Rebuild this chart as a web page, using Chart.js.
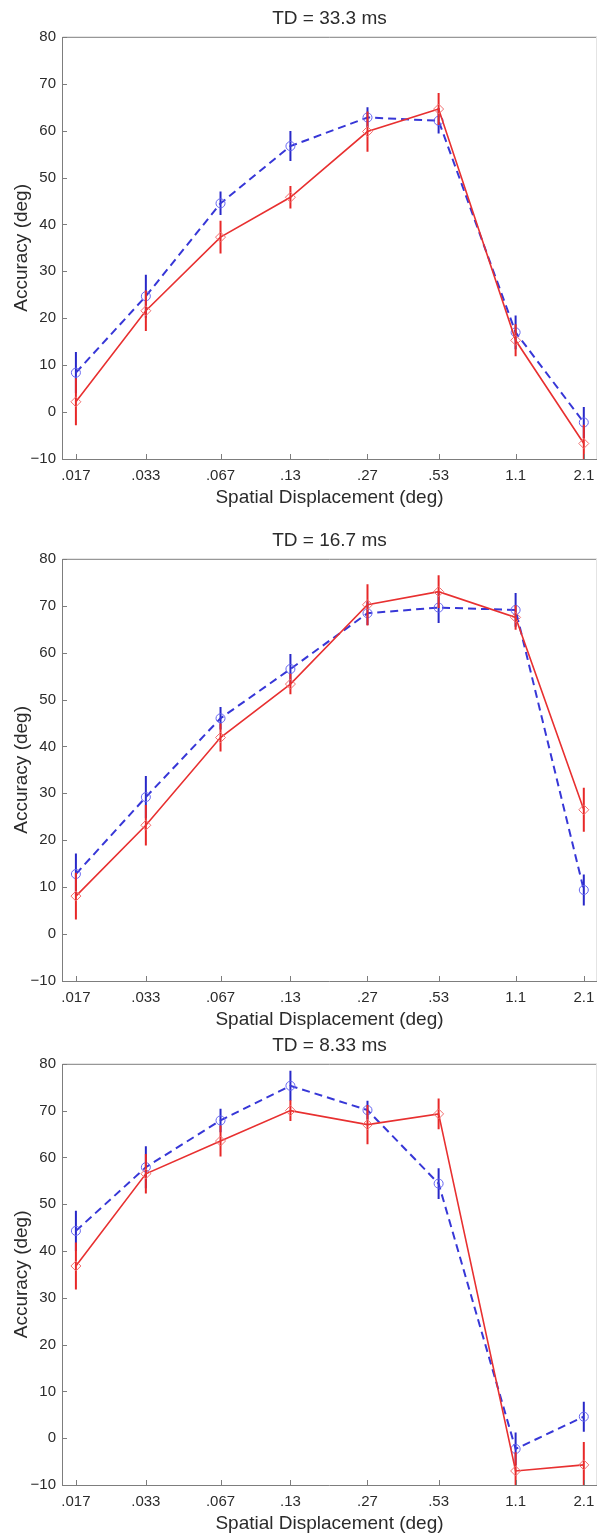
<!DOCTYPE html>
<html>
<head>
<meta charset="utf-8">
<script src="https://cdn.jsdelivr.net/npm/chart.js@4.4.1/dist/chart.umd.min.js"></script>
<style>
  html, body { margin: 0; padding: 0; background: #fff; overflow: hidden; }
  .panel { position: absolute; left: 0; width: 598px; }
</style>
</head>
<body>
<div class="panel" style="top:0px"><canvas id="td33" width="598" height="511"></canvas></div>
<div class="panel" style="top:522px"><canvas id="td17" width="598" height="511"></canvas></div>
<div class="panel" style="top:1027px"><canvas id="td8" width="598" height="510"></canvas></div>
<script>
// x : deplacement spatial (deg), axe log
const xValues = [0.017, 0.033, 0.067, 0.13, 0.27, 0.53, 1.1, 2.1];
const xTickLabels = ['.017', '.033', '.067', '.13', '.27', '.53', '1.1', '2.1'];
const yTicks = [-10, 0, 10, 20, 30, 40, 50, 60, 70, 80];
const panelTitles = ['TD = 33.3 ms', 'TD = 16.7 ms', 'TD = 8.33 ms'];

// TD = 33.3 ms
const blueTD33 = [8.4, 24.7, 44.5, 56.7, 62.8, 62.1, 17.0, -2.2];
const blueErrTD33 = [4.4, 4.6, 2.5, 3.2, 2.2, 2.7, 3.6, 3.3];
const redTD33 = [2.2, 21.6, 37.3, 45.8, 59.8, 64.6, 15.3, -6.7];
const redErrTD33 = [5.0, 4.3, 3.5, 2.4, 4.3, 3.4, 3.4, 4.0];

// TD = 16.7 ms
const blueTD17 = [12.8, 29.2, 46.0, 56.5, 68.4, 69.6, 69.1, 9.4];
const blueErrTD17 = [4.4, 4.5, 2.4, 3.2, 2.5, 3.3, 3.6, 3.3];
const redTD17 = [8.1, 23.2, 41.9, 53.3, 70.2, 73.0, 67.5, 26.5];
const redErrTD17 = [5.0, 4.3, 3.0, 2.2, 4.4, 3.5, 2.6, 4.7];

// TD = 8.33 ms
const blueTD8 = [44.3, 57.9, 67.9, 75.3, 70.1, 54.4, -2.3, 4.6];
const blueErrTD8 = [4.3, 4.5, 2.5, 3.2, 2.0, 3.3, 3.5, 3.2];
const redTD8 = [36.8, 56.5, 63.5, 70.0, 67.0, 69.3, -7.0, -5.7];
const redErrTD8 = [5.0, 4.2, 3.3, 2.2, 4.2, 3.3, 4.0, 4.9];

const textColor = '#2b2b2b';
const axisGrey = '#7d7d7d';
const font = 'Liberation Sans, Arial, Helvetica, sans-serif';

// petits traits vers l'interieur + cadre (style matlab)
const matlabBox = {
  id: 'matlabBox',
  afterDraw(chart) {
    const ctx = chart.ctx;
    const a = chart.chartArea;
    const x = chart.scales.x, y = chart.scales.y;
    ctx.save();
    ctx.lineWidth = 1;
    ctx.strokeStyle = axisGrey;
    ctx.beginPath();
    ctx.moveTo(a.right, a.top + 0.5);
    ctx.lineTo(a.left + 0.5, a.top + 0.5);
    ctx.lineTo(a.left + 0.5, a.bottom + 0.5);
    ctx.lineTo(a.right, a.bottom + 0.5);
    x.ticks.forEach((t, i) => {
      const px = Math.round(x.getPixelForTick(i)) + 0.5;
      ctx.moveTo(px, a.bottom);
      ctx.lineTo(px, a.bottom - 5);
    });
    y.ticks.forEach((t, i) => {
      const py = Math.round(y.getPixelForTick(i)) + 0.5;
      ctx.moveTo(a.left, py);
      ctx.lineTo(a.left + 5, py);
    });
    ctx.stroke();
    // bord droit tres clair
    ctx.strokeStyle = '#e4e4e4';
    ctx.beginPath();
    ctx.moveTo(a.right - 0.5, a.top);
    ctx.lineTo(a.right - 0.5, a.bottom);
    ctx.stroke();
    ctx.restore();
  }
};

function errorBars(values, errs) {
  const pts = [];
  for (let i = 0; i < values.length; i++) {
    pts.push({x: xValues[i], y: values[i] - errs[i]});
    pts.push({x: xValues[i], y: values[i] + errs[i]});
    pts.push({x: xValues[i], y: null});
  }
  return pts;
}

function points(values) {
  return values.map((v, i) => ({x: xValues[i], y: v}));
}

function createPanel(canvasId, title, blue, blueErr, red, redErr) {
  new Chart(document.getElementById(canvasId), {
    type: 'line',
    data: {
      datasets: [
        { // rouge, trait plein, losanges
          data: points(red),
          borderColor: 'rgb(232,48,48)',
          borderWidth: 1.6,
          pointStyle: 'rectRot',
          pointRadius: 5,
          pointBorderWidth: 1,
          pointBorderColor: 'rgb(240,110,110)',
          pointBackgroundColor: 'rgba(0,0,0,0)',
          tension: 0
        },
        {
          data: errorBars(red, redErr),
          borderColor: 'rgb(232,40,40)',
          borderWidth: 2,
          pointRadius: 0,
          spanGaps: false
        },
        { // bleu, tirets, cercles
          data: points(blue),
          borderColor: 'rgb(55,55,215)',
          borderWidth: 2,
          borderDash: [8, 5],
          pointStyle: 'circle',
          pointRadius: 4.5,
          pointBorderWidth: 1,
          pointBorderColor: 'rgb(100,100,240)',
          pointBackgroundColor: 'rgba(0,0,0,0)',
          tension: 0
        },
        {
          data: errorBars(blue, blueErr),
          borderColor: 'rgb(40,40,200)',
          borderWidth: 2,
          pointRadius: 0,
          spanGaps: false
        }
      ]
    },
    options: {
      responsive: false,
      animation: false,
      events: [],
      layout: { autoPadding: false, padding: { left: 0, right: 1, top: 0, bottom: 0 } },
      plugins: {
        legend: { display: false },
        tooltip: { enabled: false },
        title: {
          display: true,
          fullSize: false,
          text: title,
          color: textColor,
          font: { family: font, size: 19, weight: 'normal' },
          padding: { top: 7, bottom: 7 }
        }
      },
      scales: {
        x: {
          type: 'logarithmic',
          min: 0.0149,
          max: 2.38,
          grid: { display: false, drawTicks: false },
          border: { display: false },
          afterBuildTicks: (scale) => { scale.ticks = xValues.map(v => ({value: v})); },
          afterFit: (scale) => { scale.height = 52; scale.paddingLeft = 0; scale.paddingRight = 0; },
          ticks: {
            autoSkip: false,
            maxRotation: 0,
            padding: 8,
            color: textColor,
            font: { family: font, size: 15 },
            callback: (v, i) => xTickLabels[i]
          },
          title: {
            display: true,
            text: 'Spatial Displacement (deg)',
            color: textColor,
            font: { family: font, size: 19 },
            padding: { top: 2, bottom: 2 }
          }
        },
        y: {
          min: -10,
          max: 80,
          grid: { display: false, drawTicks: false },
          border: { display: false },
          afterBuildTicks: (scale) => { scale.ticks = yTicks.map(v => ({value: v})); },
          afterFit: (scale) => { scale.width = 62; },
          ticks: {
            padding: 6,
            color: textColor,
            font: { family: font, size: 15 },
            callback: (v) => v < 0 ? '\u2212' + Math.abs(v) : String(v)
          },
          title: {
            display: true,
            text: 'Accuracy (deg)',
            color: textColor,
            font: { family: font, size: 19 },
            padding: { top: 10, bottom: 0 }
          }
        }
      }
    },
    plugins: [matlabBox]
  });
}

createPanel('td33', panelTitles[0], blueTD33, blueErrTD33, redTD33, redErrTD33);
createPanel('td17', panelTitles[1], blueTD17, blueErrTD17, redTD17, redErrTD17);
createPanel('td8', panelTitles[2], blueTD8, blueErrTD8, redTD8, redErrTD8);
</script>
</body>
</html>
